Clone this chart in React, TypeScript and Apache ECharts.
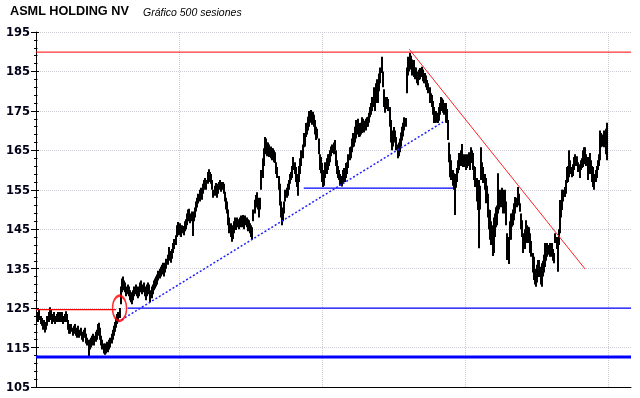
import React, { useEffect, useRef } from 'react';
import * as echarts from 'echarts';

// Session index (0..499) -> low / high of each daily bar
const sessionLows = [
  122.5,122,121.5,122,121,120.5,119.5,120,118.8,119.5,
  120.5,121.5,123,122,121,121.5,122,121,121.5,122,
  121.5,122,121.5,122,121,121.5,122,121.5,119.5,118.5,
  118.5,119,118,118.5,119,118,117.5,118,117.5,118,
  117,116.5,117.5,118,116,115.5,112.7,114.5,115,115.5,
  116,115.5,116.5,117,118,118.5,117,115.5,114.5,113.5,
  113.2,113.5,114,113.8,114.5,115,116,117,118,119,
  120,121,121.5,122.5,126,129,130,129.5,129,128,
  128.5,128,127,126.5,126,127,128,128.5,128,127.5,
  128,129,129.5,128.5,129,128,127,128,129,128.5,
  126.5,127.5,128.5,129.5,130,130.5,131,132,132.5,133,
  133.5,134,133,134,135,136,137.5,137,136.5,137.5,
  139,140,141,143,144,143.5,144,143,144,143.5,
  144.5,145,146,147,147.5,146.5,147,143.3,147,148,
  149.5,150.5,151.5,152,153,152.5,154,155,155.5,155,
  156.5,157.5,157,156.5,155,153,153.5,154,153,154,
  155,155.5,154.5,155,154,152,150,149,146,144,
  143,141.8,142.5,144,145,144.8,145.5,145,145.5,146,
  145.5,146,145,146,145.5,144.5,145,144,143,142.3,
  147,149,150.5,151.6,150,148,150,155,158,161,
  164,165,163.5,164,163.3,163,162.5,163,162,161.8,
  159,158,155,151,148,146,147,149,152,153,
  153.5,155,156.5,157.5,158,160,159,157,155.7,153.5,
  157,159,161,163,165.8,166,168.4,169,170,171,
  172,171.5,172.7,171,169,167.6,168,164,160,159.2,
  157,155.7,156,158,159,160,161,162,163.5,164.3,
  164,165,161,159,158,157.5,156,155.8,156.5,157.5,
  157,158,159,160.5,162.5,163,164.5,165.8,166,167,
  168,169,168.4,168.5,169,169.4,170,169.5,170,171,
  171,172,173.4,174,175,176,175,177,178,177,
  180,182,184.6,181,176,174.5,175.5,176,175,171,
  167,165,166,167.6,167,165,163,163.5,164.5,166,
  167.5,168.5,170,171,179.5,184,185,186,185.5,184,
  183.6,183,183.6,182,181.5,182.8,183,183.6,182.5,182,
  182,181,180.3,179.5,177,177.3,176,174,171.9,172,
  172,171.9,172.5,174,175.2,175,174.5,174,172,171.9,
  167.6,162,158.2,157.5,156,155,148.6,155.5,157,159.2,
  160,161,162,160.8,160.8,161,160,160.5,161,160,
  162,161.8,160,157.5,155.7,152,149.9,140.2,150,157.5,
  158,156.7,155,151.6,152,148,145,142.3,141,138.2,
  139,143,145.5,146,149,150,150.6,151,149,150,
  149,146,137.2,136.2,142.3,142.3,145.6,146,147.3,149,
  150.6,152.4,151,149.4,145,143,139,140,142.3,141.5,
  141.5,142,139,138,134,132.1,131,130.4,131.5,132.9,
  132.9,131,130.4,133,134,135.4,137,138,138.5,138,
  138,138.5,137,136.4,141.5,140,134.2,141,144,148,
  149.9,152,153.2,154,156.7,157,158.2,159,158.2,158.5,
  160,161,161.8,161,159.5,158,160,160.5,160.8,161.5,
  162.5,161,157.5,159,160.8,159,157,155.7,155,157,
  158,160,161,162.5,165.8,166,165.8,166,164,162.5
];

const sessionHighs = [
  124.5,124,123.5,124.8,123,122.5,121.5,122,121,121.5,
  123,124,125.2,124.5,123.5,123.5,124,123,123.5,124,
  123.5,124,123.5,124,123,123.5,124.2,123.5,122,121,
  120.5,121,120,120.5,121,120,119.5,120.5,119.5,120,
  119,118.5,119.5,120,118.5,117.5,117,117,117.5,118,
  118.5,118,119,119.5,121,121.3,120,118,117,116,
  116,115.5,116.5,116,117,117.5,118.5,119.5,120.5,121.5,
  122.5,123.5,124,125,130.5,132.5,133,132,131.5,130.5,
  131,130.5,129.5,129,128.5,129.5,130.5,131,130.5,130,
  130.5,131.5,132,131,131.5,130.5,130,131,131.5,131,
  129.5,130.5,131,132,132.5,133,133.5,134.5,135,135.5,
  136,136.5,135.5,136.5,137.5,138.5,140.5,139.5,139,140,
  141.5,142.5,143.5,146,146.8,146,146.5,145.5,146,145.8,
  147,147.5,149,150,150.2,149,149.5,148,149.5,150.5,
  152,153,154,155,155.5,155,156.5,157.5,158,157.5,
  159.5,160.2,159.5,159,157.5,155,156,156.7,155.5,156.5,
  157,157.5,157,157,156.5,154.5,153,152,150,148,
  146.5,145,146,147,148,147.5,148,147.5,148,148.5,
  148,148.6,148,148.5,148,147.5,147.3,146.5,146,145.5,
  150,152.5,153.7,154.4,153,151,153,160,163,165.5,
  168.4,168,167,167,166.5,166,165.5,165.5,165,164.5,
  162,160.8,158.5,156.5,152,150,150.5,152,155,155.5,
  156.5,157.5,159,159.5,161,163.3,162,160.8,159,157.5,
  161,163,165,166.5,169.4,169,171.9,172,173.5,175,
  175.2,174.7,174.8,174,172.7,171,170.5,168,164,163.3,
  161.8,159.5,160,162,163,164,164,165,166,166.5,
  167,167.6,165,162.5,161,160,159,158.5,160,160.5,
  160.5,161.8,162,164,165.8,166,168,169.4,169,171,
  172.7,173,171.5,171.9,172,173.4,173,172.5,173,173.4,
  173.5,174.5,176,177,178.5,181,179.5,182,183,181.5,
  184.5,186,188.7,185,180.5,178.5,178.5,178.5,178,176,
  172.7,169,170,170.9,170,168.4,166.5,167,168,169.5,
  171,172,173.4,173.2,186,188.7,188.5,189.7,189,188,
  187.9,186,186,185,184.5,185.4,185.9,186.2,185.5,184.6,
  184.6,184,182.8,182,181,179.5,179,177.5,176,175,
  175,174.5,176,177,178.5,178.2,177.8,177,177,175.5,
  172.7,167,164,162.5,160,159.2,157,159,160.5,162.5,
  164.3,165,166.6,164,163.3,164,163.3,164,164.5,163.5,
  165.8,165,164.3,161,160.8,158,156,157.5,156,165.8,
  162,160.8,159,158,156,154,150,149.9,147,146,
  148,149,150.6,151,159.2,155,155,155.5,155,154,
  155,152,144,143,147,149,149,150,151.6,153.2,
  153,155.7,154,151.6,149,147.3,144,145,147.3,146,
  145.6,145.5,144,142,139,138,135,134.6,136,137.2,
  137.2,135.5,136.4,137,138.5,141.5,140,141.5,141,141.5,
  141,141.5,140,139,144,143,143,145,152.4,151,
  155,155,155.7,157.5,160.8,161,165,162.5,160.8,161.5,
  163.3,164,163.3,163.5,162,161.5,162.5,163,165,165.8,
  165.8,164,163.3,162,164.3,162.5,161,160.8,159,160,
  161,162.5,164,170,169.4,169,170,168.5,170.5,172
];

// Annotation lines: [session, price] end points
const topResistance = [[0, 189.9], [520, 189.9]];
const oldResistance = [[0, 124.6], [70, 124.6]];
const support125 = [[80, 125.0], [520, 125.0]];
const support112 = [[0, 112.6], [520, 112.6]];
const support155 = [[234, 155.4], [365, 155.4]];
const riseTrend = [[71.7, 121.5], [355.8, 172.2]];
const fallTrend = [[326.3, 190.6], [479.9, 134.9]];
const breakoutPoint = [[73, 124.95]];

const yTicks = { min: 105, max: 195, step: 10 };
const xSpan = { min: 0, max: 520, step: 125 };

export default function App() {
  const ref = useRef<HTMLDivElement>(null);
  useEffect(() => {
    if (!ref.current) return;
    const chart = echarts.init(ref.current, null, { renderer: 'svg' });
    const bars = sessionLows.map((l, i) => [i, l, sessionHighs[i]]);
    const lineSeries = (data: number[][], color: string, width: number, type: any = 'solid') => ({
      type: 'line',
      data,
      showSymbol: false,
      symbol: 'none',
      silent: true,
      animation: false,
      lineStyle: { color, width, type },
      z: 5,
    });
    chart.setOption({
      animation: false,
      grid: { left: 36, right: 9, top: 32, bottom: 11, containLabel: false },
      graphic: [
        { type: 'text', left: 10, top: 4, style: { text: 'ASML HOLDING NV', font: 'bold 12.7px "Liberation Sans", Arial, sans-serif', fill: '#000' } },
        { type: 'text', left: 143, top: 6, style: { text: 'Gráfico 500 sesiones', font: 'italic 10.5px "Liberation Sans", Arial, sans-serif', fill: '#000' } },
      ],
      xAxis: {
        type: 'value', min: xSpan.min, max: xSpan.max, interval: xSpan.step,
        axisLine: { show: true, onZero: false, lineStyle: { color: '#000', width: 1 } },
        axisTick: { show: false },
        axisLabel: { show: false },
        splitLine: { show: true, showMinLine: false, showMaxLine: false, lineStyle: { color: '#cdcdd6', type: 'dotted', width: 1 } },
      },
      yAxis: [
        {
          type: 'value', min: yTicks.min, max: yTicks.max, interval: yTicks.step,
          axisLine: { show: true, lineStyle: { color: '#000', width: 1 } },
          axisTick: { show: true, length: 5, lineStyle: { color: '#000' } },
          minorTick: { show: true, splitNumber: 5, length: 2, lineStyle: { color: '#000' } },
          axisLabel: { fontFamily: 'DejaVu Sans', fontWeight: 'bold', fontSize: 11.5, color: '#000018', margin: 6 },
          splitLine: { show: true, showMinLine: false, lineStyle: { color: '#cdcdd6', type: 'dotted', width: 1 } },
        },
        {
          type: 'value', min: yTicks.min, max: yTicks.max, interval: yTicks.step, position: 'left',
          axisLine: { show: false },
          axisTick: { show: true, inside: true, length: 3, lineStyle: { color: '#000' } },
          minorTick: { show: true, splitNumber: 5, length: 1.5, lineStyle: { color: '#000' } },
          axisLabel: { show: false },
          splitLine: { show: false },
        },
      ],
      series: [
        {
          type: 'custom',
          data: bars,
          encode: { x: 0, y: [1, 2] },
          clip: true,
          silent: true,
          z: 3,
          renderItem: (params: any, api: any) => {
            const lo = api.coord([api.value(0), api.value(1)]);
            const hi = api.coord([api.value(0), api.value(2)]);
            const x = Math.round(lo[0]);
            return {
              type: 'line',
              shape: { x1: x, y1: lo[1], x2: x, y2: hi[1] },
              style: { stroke: '#000', lineWidth: 2 },
            };
          },
        },
        lineSeries(support112, '#0000ff', 3),
        lineSeries(topResistance, '#ff0000', 1),
        lineSeries(oldResistance, '#ff0000', 1.2),
        lineSeries(support125, '#0000ff', 1.2),
        lineSeries(support155, '#0000ff', 1.2),
        lineSeries(riseTrend, '#2020ff', 1.5, [2, 2]),
        lineSeries(fallTrend, '#ff2020', 1),
        {
          type: 'scatter',
          data: breakoutPoint,
          symbol: 'circle',
          symbolSize: [14, 25],
          silent: true,
          z: 6,
          itemStyle: { color: 'rgba(0,0,0,0)', borderColor: '#ff0000', borderWidth: 2 },
        },
      ],
    });
    return () => chart.dispose();
  }, []);
  return <div ref={ref} style={{ position: 'fixed', left: 0, top: 0, width: 640, height: 398 }} />;
}
